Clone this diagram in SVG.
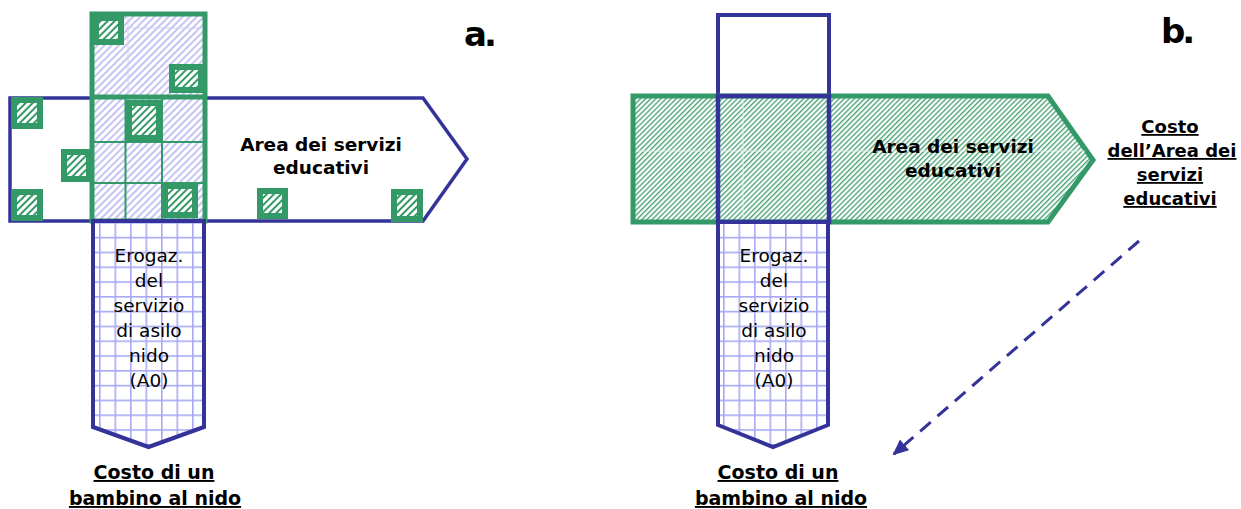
<svg xmlns="http://www.w3.org/2000/svg" width="1241" height="509" viewBox="0 0 1241 509">
<defs>
<style>
.blue{stroke:#333399;stroke-width:4}
.nofill{fill:none}
.grn{stroke:#339966;stroke-width:5}
.sq{fill:url(#hg);stroke:#339966;stroke-width:6}
.reg{font-family:"DejaVu Sans",Verdana,sans-serif;font-size:18.5px;fill:#000;text-anchor:middle}
.bold{font-family:"DejaVu Sans",Verdana,sans-serif;font-weight:bold;font-size:18.5px;fill:#000;text-anchor:middle}
.ul{text-decoration:underline;font-size:19px}
.lbl{font-family:"DejaVu Sans",Verdana,sans-serif;font-weight:bold;font-size:34px;letter-spacing:-3px;fill:#000}
.faint{stroke:#d0d0f0;stroke-width:1}
</style>
<pattern id="hg" width="5" height="5" patternUnits="userSpaceOnUse" patternTransform="rotate(45)"><rect width="5" height="5" fill="#fff"/><rect width="2" height="5" fill="#339966"/></pattern>
<pattern id="hf" width="3.6" height="3.6" patternUnits="userSpaceOnUse" patternTransform="rotate(45)"><rect width="3.6" height="3.6" fill="#fff"/><rect width="1.4" height="3.6" fill="#4fa57a"/></pattern>
<pattern id="hl" width="5" height="5" patternUnits="userSpaceOnUse" patternTransform="rotate(45)"><rect width="5" height="5" fill="#fff"/><rect width="2" height="5" fill="#c4c4f6"/></pattern>
<pattern id="gridL" x="99" y="222" width="15.5" height="14.8" patternUnits="userSpaceOnUse"><rect width="15.5" height="14.8" fill="#fff"/><rect x="0" y="0" width="1.6" height="14.8" fill="#a8a8f4"/><rect x="0" y="0" width="15.5" height="1.6" fill="#a8a8f4"/></pattern>
<pattern id="gridR" x="723" y="222" width="15.5" height="14.8" patternUnits="userSpaceOnUse"><rect width="15.5" height="14.8" fill="#fff"/><rect x="0" y="0" width="1.6" height="14.8" fill="#a8a8f4"/><rect x="0" y="0" width="15.5" height="1.6" fill="#a8a8f4"/></pattern>
<marker id="ah" markerWidth="16" markerHeight="14" refX="14" refY="7" orient="auto" markerUnits="userSpaceOnUse"><path d="M0,0 L16,7 L0,14 z" fill="#333399"/></marker>
</defs>
<rect width="1241" height="509" fill="#fff"/>

<g id="panel-a">
<g id="a-area-arrow">
<polygon points="10,98 423,98 467,159 423,221 10,221" fill="#fff" stroke="#333399" stroke-width="3.5"/>
<text class="bold" x="321" y="151">Area dei servizi</text>
<text class="bold" x="321" y="174">educativi</text>
</g>
<g id="a-green-block">
<rect x="92" y="14" width="113" height="207" fill="url(#hl)" class="grn"/>
<line class="faint" x1="128" y1="16" x2="128" y2="95"/>
<line class="faint" x1="94" y1="28" x2="203" y2="28"/>
<line x1="92" y1="97" x2="205" y2="97" stroke="#339966" stroke-width="5"/>
<line x1="125.5" y1="97" x2="125.5" y2="221" stroke="#339966" stroke-width="2"/>
<line x1="162" y1="97" x2="162" y2="221" stroke="#339966" stroke-width="2"/>
<line x1="92" y1="142" x2="205" y2="142" stroke="#339966" stroke-width="2"/>
<line x1="92" y1="183" x2="205" y2="183" stroke="#339966" stroke-width="2"/>
</g>
<g id="a-squares">
<rect class="sq" x="96" y="18" width="25" height="24"/>
<rect class="sq" x="172" y="67" width="29" height="23"/>
<rect class="sq" x="14" y="100" width="26" height="26"/>
<rect class="sq" x="129" y="103" width="30" height="35"/>
<rect class="sq" x="64" y="152" width="25" height="27"/>
<rect class="sq" x="14" y="192" width="26" height="26"/>
<rect class="sq" x="165" y="186" width="30" height="29"/>
<rect class="sq" x="260" y="191" width="25" height="25"/>
<rect class="sq" x="394" y="192" width="26" height="27"/>
</g>
<g id="a-column">
<polygon points="93,221 204,221 204,427 148.5,447 93,427" fill="url(#gridL)" class="blue"/>
<text class="reg" x="149" y="262">Erogaz.</text>
<text class="reg" x="149" y="287">del</text>
<text class="reg" x="149" y="312">servizio</text>
<text class="reg" x="149" y="337">di asilo</text>
<text class="reg" x="149" y="362">nido</text>
<text class="reg" x="149" y="387">(A0)</text>
</g>
<g id="a-cost">
<text class="bold ul" x="154" y="479">Costo di un</text>
<text class="bold ul" x="155" y="505">bambino al nido</text>
</g>
<text class="lbl" x="464" y="46">a.</text>
</g>

<g id="panel-b">
<g id="b-top-square">
<rect x="718" y="15" width="111" height="83" fill="#fff" class="blue" stroke-width="4.5"/>
</g>
<g id="b-area-arrow">
<polygon points="633,96 1048,96 1093,160 1048,222 633,222" fill="url(#hf)" class="grn"/>
<line x1="636" y1="151" x2="1085" y2="151" stroke="#e0f0e8" stroke-width="1"/>
<line x1="743" y1="99" x2="743" y2="219" stroke="#e0f0e8" stroke-width="1"/>
<rect x="718" y="96" width="111" height="126" class="blue nofill" style="stroke-width:4.5"/>
<text class="bold" x="953" y="153">Area dei servizi</text>
<text class="bold" x="953" y="177">educativi</text>
</g>
<g id="b-column">
<polygon points="718,222 828,222 828,425 773,447 718,425" fill="url(#gridR)" class="blue"/>
<text class="reg" x="774" y="262">Erogaz.</text>
<text class="reg" x="774" y="287">del</text>
<text class="reg" x="774" y="312">servizio</text>
<text class="reg" x="774" y="337">di asilo</text>
<text class="reg" x="774" y="362">nido</text>
<text class="reg" x="774" y="387">(A0)</text>
</g>
<g id="b-cost">
<text class="bold ul" x="778" y="479">Costo di un</text>
<text class="bold ul" x="781" y="505">bambino al nido</text>
</g>
<g id="b-area-cost">
<text class="bold ul" x="1170" y="133" style="font-size:18px">Costo</text>
<text class="bold ul" x="1172" y="157" style="font-size:18px">dell’Area dei</text>
<text class="bold ul" x="1170" y="181" style="font-size:18px">servizi</text>
<text class="bold ul" x="1170" y="205" style="font-size:18px">educativi</text>
</g>
<text class="lbl" x="1161" y="43">b.</text>
</g>

<g id="connectors">
<line x1="1139" y1="241" x2="894" y2="454" stroke="#333399" stroke-width="3" stroke-dasharray="14,9" marker-end="url(#ah)"/>
</g>
</svg>
